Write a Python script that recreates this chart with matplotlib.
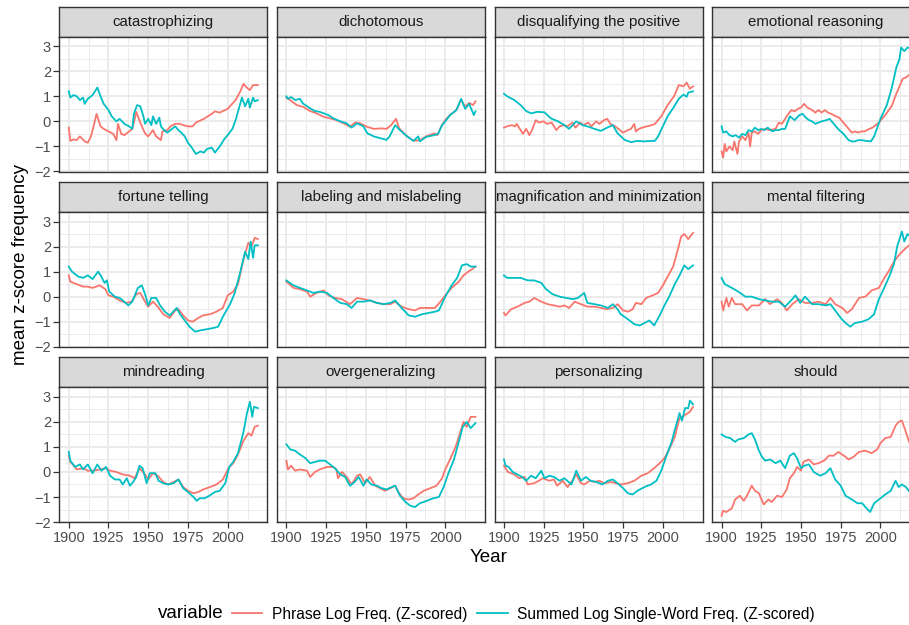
import matplotlib
matplotlib.use("Agg")
import matplotlib.pyplot as plt
from matplotlib.lines import Line2D

plt.rcParams['font.family'] = ['Liberation Sans', 'DejaVu Sans']

# ---------------- data (year, mean z-score) ----------------
catastrophizing_phrase = [(1900,-0.25),(1901,-0.78),(1903,-0.72),(1905,-0.75),(1907,-0.6),(1910,-0.8),(1912,-0.85),(1914,-0.6),(1916,-0.1),(1917.5,0.3),(1919,0.0),(1920,-0.2),(1922,-0.3),(1925,-0.4),(1928,-0.5),(1930,-0.75),(1931,-0.1),(1933,-0.5),(1935,-0.55),(1938,-0.4),(1940,-0.3),(1942.5,0.38),(1945,-0.05),(1948,-0.48),(1950,-0.6),(1953,-0.35),(1955,-0.6),(1958,-0.75),(1959,-0.4),(1962,-0.35),(1964,-0.2),(1967,-0.1),(1970,-0.1),(1972,-0.15),(1975,-0.2),(1978,-0.2),(1980,-0.05),(1985,0.1),(1990,0.3),(1992,0.4),(1995,0.35),(2000,0.5),(2005,0.85),(2008,1.2),(2010,1.5),(2012,1.35),(2014,1.25),(2016,1.45),(2019,1.45)]
catastrophizing_summed = [(1900,1.2),(1901,0.95),(1903,1.05),(1905,1.0),(1907,0.85),(1909,0.95),(1910,0.7),(1912,0.9),(1915,1.05),(1918,1.35),(1920,1.0),(1922,0.7),(1925,0.45),(1927,0.2),(1930,0.0),(1932,0.1),(1935,-0.1),(1938,-0.2),(1940,-0.3),(1941,0.3),(1943,0.65),(1945,0.6),(1947,0.2),(1948,-0.1),(1950,0.1),(1952,-0.15),(1953,0.2),(1955,-0.1),(1957,0.15),(1958,-0.2),(1960,-0.35),(1962,-0.45),(1965,-0.3),(1967,-0.2),(1969,-0.35),(1970,-0.4),(1973,-0.6),(1975,-0.85),(1978,-1.1),(1980,-1.3),(1983,-1.2),(1985,-1.25),(1987,-1.1),(1990,-1.05),(1992,-1.25),(1995,-1.0),(1998,-0.7),(2000,-0.55),(2003,-0.3),(2005,0.05),(2007,0.5),(2009,0.95),(2011,0.6),(2013,0.9),(2014,0.55),(2016,0.95),(2017,0.8),(2019,0.85)]

dichotomous_phrase = [(1900,0.95),(1902,0.87),(1906.5,0.65),(1910.5,0.58),(1915,0.41),(1919,0.32),(1923.5,0.18),(1927.5,0.12),(1931.5,0.05),(1936,-0.08),(1940,-0.21),(1943.5,-0.04),(1946.5,-0.08),(1950.5,-0.21),(1955,-0.3),(1960,-0.28),(1963,-0.3),(1966,-0.15),(1969,0.1),(1971,-0.28),(1976,-0.6),(1980,-0.78),(1984,-0.75),(1988,-0.6),(1993,-0.48),(1995,-0.55),(1997.5,-0.2),(2000,0.05),(2003,0.25),(2007,0.45),(2010,0.87),(2012.5,0.58),(2015,0.74),(2017.5,0.65),(2019,0.8)]
dichotomous_summed = [(1900,1.0),(1901,0.9),(1903,0.97),(1905.5,0.85),(1908.5,0.9),(1910.5,0.71),(1915,0.52),(1918,0.41),(1921,0.38),(1923.5,0.32),(1926.5,0.25),(1929.5,0.12),(1934,0.0),(1938,-0.08),(1941,-0.25),(1944.5,-0.08),(1948.5,-0.2),(1951,-0.48),(1955,-0.6),(1959,-0.67),(1963,-0.74),(1965,-0.6),(1968.5,-0.15),(1971.5,-0.35),(1976,-0.6),(1980,-0.78),(1983,-0.6),(1984,-0.8),(1988,-0.62),(1993,-0.55),(1995.5,-0.5),(1998,-0.15),(2000,0.0),(2003,0.25),(2007,0.45),(2010,0.9),(2012.5,0.5),(2015,0.7),(2018,0.25),(2019,0.4)]

disqualifying_phrase = [(1900,-0.25),(1902,-0.2),(1905,-0.15),(1907,-0.2),(1908,-0.1),(1910,-0.3),(1912,-0.5),(1914,-0.3),(1916,-0.55),(1918,-0.3),(1920,0.05),(1922,-0.05),(1925,0.0),(1927,-0.1),(1930,-0.05),(1933,-0.35),(1935,-0.2),(1938,-0.15),(1940,-0.2),(1943,-0.05),(1945,-0.25),(1948,-0.05),(1950,-0.15),(1953,-0.05),(1955,-0.2),(1958,0.0),(1960,-0.1),(1963,0.05),(1965,0.1),(1967,-0.1),(1970,-0.2),(1973,-0.35),(1975,-0.45),(1978,-0.35),(1980,-0.3),(1982,-0.1),(1983,-0.4),(1985,-0.3),(1987,-0.25),(1990,-0.2),(1993,-0.15),(1995,-0.1),(1999,0.2),(2003,0.65),(2007,1.0),(2010,1.45),(2013,1.4),(2015,1.55),(2017,1.3),(2019,1.4)]
disqualifying_summed = [(1900,1.1),(1902,1.0),(1906.5,0.85),(1910.5,0.65),(1914,0.41),(1917,0.32),(1921,0.38),(1925.5,0.36),(1929.5,0.12),(1934,0.0),(1938,-0.15),(1941,-0.3),(1945.5,0.0),(1949.5,-0.15),(1952.5,-0.2),(1957,-0.3),(1961,-0.38),(1964,-0.28),(1968.5,-0.15),(1971.5,-0.48),(1976,-0.74),(1980,-0.83),(1984,-0.78),(1988,-0.8),(1993,-0.78),(1995,-0.78),(1997,-0.6),(2000,-0.2),(2003,0.2),(2007,0.58),(2010,0.9),(2013,1.07),(2015,0.98),(2016,1.15),(2019,1.2)]

emotional_phrase = [(1900,-1.2),(1901,-1.45),(1902,-0.9),(1903,-1.2),(1905,-1.0),(1907,-1.15),(1908,-0.8),(1910,-1.3),(1911,-0.8),(1913,-0.6),(1915,-0.75),(1917,-0.45),(1918,-1.0),(1919,-0.45),(1921,-0.4),(1923,-0.5),(1925,-0.35),(1928,-0.3),(1930,-0.35),(1934,-0.3),(1936,-0.05),(1938,-0.1),(1940,0.1),(1942,0.3),(1944,0.45),(1946,0.4),(1948,0.5),(1950,0.55),(1952,0.7),(1954,0.55),(1957,0.45),(1959,0.35),(1961,0.45),(1963,0.35),(1965,0.45),(1967,0.35),(1969,0.3),(1972,0.2),(1974,0.15),(1976,0.0),(1978,-0.15),(1980,-0.3),(1982,-0.45),(1984,-0.4),(1986,-0.45),(1988,-0.4),(1990,-0.4),(1993,-0.3),(1995,-0.25),(1999,-0.05),(2003,0.25),(2007,0.6),(2010,1.1),(2012,1.4),(2014,1.7),(2016,1.75),(2019,1.9)]
emotional_summed = [(1900,-0.2),(1901,-0.45),(1903,-0.4),(1905,-0.55),(1907,-0.6),(1909,-0.55),(1911,-0.65),(1913,-0.5),(1915,-0.55),(1917,-0.35),(1919,-0.4),(1921,-0.25),(1923,-0.35),(1925,-0.3),(1927,-0.35),(1929,-0.25),(1932,-0.4),(1934,-0.35),(1936,-0.35),(1938,-0.3),(1940,-0.3),(1943,0.2),(1945,0.1),(1946,0.05),(1949,0.25),(1951,0.3),(1953,0.15),(1955,0.05),(1957,0.0),(1959,-0.1),(1961,-0.05),(1963,0.0),(1966,0.05),(1968,0.1),(1970,-0.05),(1972,-0.2),(1974,-0.35),(1976,-0.45),(1978,-0.6),(1980,-0.75),(1982,-0.8),(1984,-0.8),(1986,-0.75),(1988,-0.75),(1991,-0.78),(1994,-0.8),(1996,-0.6),(2000,0.1),(2004,0.65),(2007,1.3),(2010,2.15),(2012,2.5),(2013,2.95),(2015,2.8),(2017,2.95),(2019,2.9)]

fortune_phrase = [(1900,0.85),(1901,0.6),(1905,0.5),(1909,0.4),(1912,0.4),(1915,0.35),(1919.5,0.45),(1923,0.3),(1925,0.05),(1928,0.0),(1932,-0.15),(1936,-0.25),(1939.5,-0.2),(1942.5,0.1),(1945,0.15),(1948,-0.2),(1950,-0.4),(1953,-0.2),(1956,-0.4),(1959.5,-0.7),(1963.5,-0.85),(1967,-0.55),(1969,-0.5),(1972,-0.75),(1975,-0.95),(1978,-1.0),(1981.5,-0.85),(1984.5,-0.75),(1989,-0.7),(1993,-0.6),(1997,-0.45),(2000,0.05),(2003.5,0.2),(2006.5,0.5),(2010,1.5),(2013,2.15),(2015,2.0),(2017,2.35),(2019,2.3)]
fortune_summed = [(1900,1.2),(1902,1.0),(1906,0.8),(1909,0.75),(1912,0.85),(1915,0.7),(1918.5,1.0),(1920.5,0.8),(1922.5,0.55),(1924,0.65),(1925.5,0.2),(1929,0.0),(1932,-0.05),(1934,-0.15),(1937.5,-0.35),(1940,-0.2),(1943.5,0.35),(1946,0.45),(1948,0.1),(1950,-0.35),(1952,-0.05),(1955,-0.05),(1957.5,-0.35),(1960.5,-0.6),(1963.5,-0.75),(1968,-0.45),(1970,-0.7),(1973,-0.95),(1976,-1.2),(1979.5,-1.4),(1982.5,-1.35),(1987,-1.3),(1991,-1.25),(1994,-1.2),(1997,-0.8),(2001.5,-0.3),(2004.5,0.15),(2008,1.0),(2011,1.8),(2013,1.5),(2014.5,2.2),(2016,1.55),(2017,2.05),(2019,2.05)]

labeling_phrase = [(1900,0.6),(1904.5,0.35),(1908.5,0.3),(1913,0.2),(1915,0.0),(1919,0.15),(1923.5,0.25),(1926.5,0.05),(1930.5,-0.05),(1935,-0.1),(1940,-0.3),(1944.5,-0.05),(1948.5,-0.1),(1952.5,-0.15),(1957,-0.25),(1962,-0.3),(1965.5,-0.3),(1968.5,-0.2),(1972.5,-0.4),(1977,-0.5),(1981,-0.55),(1984,-0.45),(1988.5,-0.45),(1993.5,-0.45),(1997,-0.2),(2000,0.05),(2004,0.35),(2008.5,0.6),(2011.5,0.85),(2014.5,1.0),(2017,1.1),(2019,1.2)]
labeling_summed = [(1900,0.65),(1904.5,0.45),(1908.5,0.35),(1913,0.25),(1917,0.15),(1921,0.2),(1925.5,0.15),(1929.5,-0.05),(1934,-0.25),(1938,-0.3),(1941,-0.45),(1944.5,-0.2),(1948.5,-0.2),(1952.5,-0.15),(1957,-0.25),(1961,-0.3),(1965.5,-0.25),(1968.5,-0.15),(1972.5,-0.45),(1977,-0.75),(1981,-0.8),(1985.5,-0.7),(1989.5,-0.65),(1993.5,-0.6),(1996,-0.55),(2000,0.0),(2004,0.45),(2007.5,0.75),(2010.5,1.25),(2013.5,1.3),(2016,1.2),(2019,1.2)]

magnification_phrase = [(1900,-0.65),(1901,-0.75),(1904.5,-0.5),(1908.5,-0.4),(1913,-0.25),(1916,-0.2),(1919,-0.05),(1923.5,-0.2),(1927.5,-0.3),(1931.5,-0.35),(1935,-0.4),(1938,-0.35),(1941,-0.45),(1944.5,-0.2),(1948.5,-0.3),(1952.5,-0.4),(1957,-0.4),(1961,-0.45),(1964.5,-0.5),(1968.5,-0.45),(1971.5,-0.3),(1975,-0.55),(1978,-0.6),(1981,-0.5),(1983,-0.25),(1986.5,-0.3),(1989.5,-0.05),(1993.5,0.05),(1997,0.15),(2000,0.45),(2003,0.8),(2006.5,1.2),(2009.5,1.9),(2011.5,2.4),(2013.5,2.5),(2016,2.3),(2019,2.55)]
magnification_summed = [(1900,0.85),(1902,0.75),(1906.5,0.75),(1910.5,0.75),(1915,0.65),(1919,0.65),(1923.5,0.55),(1926.5,0.3),(1930.5,0.1),(1935,0.0),(1939,-0.05),(1943.5,-0.1),(1946.5,-0.05),(1950.5,0.15),(1952.5,-0.25),(1957,-0.3),(1961,-0.35),(1965.5,-0.45),(1968.5,-0.3),(1971.5,-0.5),(1973.5,-0.7),(1978,-0.9),(1982,-1.1),(1985.5,-1.15),(1988.5,-1.05),(1991.5,-0.95),(1994.5,-1.15),(1998,-0.75),(2001,-0.35),(2004,0.0),(2007.5,0.5),(2010.5,0.85),(2013.5,1.25),(2016,1.1),(2019,1.25)]

mental_phrase = [(1900,-0.2),(1901,-0.55),(1903,-0.05),(1904.5,-0.4),(1906.5,-0.05),(1908.5,-0.3),(1913,-0.3),(1916,-0.55),(1919,-0.35),(1923.5,-0.35),(1927.5,-0.1),(1930.5,-0.3),(1935,-0.1),(1938,-0.25),(1941,-0.55),(1944.5,-0.3),(1948.5,-0.1),(1952.5,-0.25),(1957,-0.25),(1961,-0.2),(1965.5,-0.3),(1968.5,-0.05),(1971.5,-0.3),(1976,-0.45),(1979,-0.65),(1982,-0.5),(1986.5,-0.05),(1990.5,0.0),(1994.5,0.25),(1999,0.35),(2002,0.7),(2005.5,1.05),(2008.5,1.4),(2011.5,1.65),(2014.5,1.85),(2018,2.05),(2019,2.1)]
mental_summed = [(1900,0.75),(1902,0.5),(1906.5,0.35),(1910.5,0.2),(1915,0.0),(1919,0.0),(1923.5,-0.1),(1927.5,-0.15),(1931.5,-0.2),(1936,-0.2),(1940,-0.4),(1944.5,-0.1),(1946.5,0.05),(1949.5,-0.25),(1952.5,0.0),(1957,-0.3),(1961,-0.3),(1965.5,-0.35),(1968.5,-0.3),(1971.5,-0.55),(1975,-0.85),(1978,-1.05),(1981,-1.2),(1984,-1.05),(1988.5,-1.0),(1992.5,-0.9),(1996,-0.7),(1999,-0.1),(2002,0.3),(2005.5,0.8),(2008.5,1.3),(2010.5,2.0),(2013.5,2.6),(2015,2.2),(2017,2.5),(2019,2.4)]

mindreading_phrase = [(1900,0.65),(1901,0.4),(1902.5,0.3),(1905,0.1),(1909,0.15),(1912,0.05),(1915,0.05),(1919.5,0.1),(1923.5,0.15),(1926,0.05),(1930,0.0),(1934,-0.1),(1938.5,-0.15),(1941.5,-0.25),(1944.5,0.15),(1948,-0.1),(1950,-0.3),(1953,-0.05),(1956,-0.15),(1959.5,-0.4),(1962.5,-0.5),(1966,-0.4),(1969,-0.3),(1972,-0.6),(1975,-0.75),(1978.5,-0.85),(1981.5,-0.8),(1984.5,-0.7),(1989,-0.6),(1993,-0.5),(1997,-0.3),(2000.5,0.15),(2003.5,0.35),(2006.5,0.7),(2010,1.25),(2013,1.55),(2015,1.45),(2017,1.8),(2019,1.85)]
mindreading_summed = [(1900,0.8),(1901,0.45),(1904,0.2),(1907,0.3),(1909,0.1),(1912,0.3),(1915,-0.05),(1918,0.3),(1920.5,0.05),(1923.5,0.2),(1926,-0.15),(1929,-0.3),(1932,-0.3),(1934,-0.5),(1936.5,-0.25),(1938.5,-0.55),(1940.5,-0.4),(1942.5,-0.2),(1944.5,0.25),(1946.5,0.15),(1949,-0.45),(1951,-0.05),(1954.5,-0.05),(1956.5,-0.35),(1959.5,-0.45),(1962.5,-0.5),(1966,-0.45),(1969,-0.3),(1972,-0.65),(1975,-0.8),(1978.5,-1.0),(1980.5,-1.15),(1982.5,-1.05),(1985.5,-1.05),(1988.5,-0.95),(1992,-0.8),(1995,-0.75),(1998.5,-0.45),(2001,0.2),(2003.5,0.4),(2006.5,0.75),(2010,1.6),(2012,2.3),(2014,2.8),(2015.5,2.2),(2016.5,2.6),(2019,2.55)]

overgeneralizing_phrase = [(1900,0.45),(1901,0.1),(1903,0.25),(1905.5,0.05),(1908.5,0.1),(1913,0.05),(1915,-0.2),(1918,0.0),(1921,0.1),(1925.5,0.2),(1929.5,0.2),(1931.5,0.1),(1932.5,-0.25),(1935,0.0),(1938,-0.2),(1941,-0.5),(1944.5,-0.15),(1946.5,-0.1),(1949.5,-0.45),(1952.5,-0.2),(1956,-0.55),(1959,-0.65),(1962,-0.75),(1965.5,-0.65),(1968.5,-0.55),(1970.5,-0.8),(1973.5,-1.05),(1977,-1.1),(1980,-1.05),(1983,-0.9),(1986.5,-0.75),(1990.5,-0.65),(1994.5,-0.55),(1998,-0.25),(2000,0.1),(2003,0.5),(2006.5,1.0),(2009.5,1.6),(2011.5,2.0),(2013.5,1.8),(2016,2.2),(2019,2.2)]
overgeneralizing_summed = [(1900,1.1),(1902.5,0.9),(1905.5,0.85),(1908.5,0.7),(1912,0.55),(1915,0.35),(1918,0.4),(1921,0.45),(1924.5,0.45),(1927.5,0.3),(1930.5,0.15),(1934,-0.1),(1937,-0.2),(1940,-0.55),(1943,-0.4),(1945.5,-0.2),(1948.5,-0.55),(1950.5,-0.3),(1953.5,-0.5),(1957,-0.55),(1960,-0.65),(1963,-0.7),(1966.5,-0.6),(1968.5,-0.55),(1971.5,-0.95),(1975,-1.2),(1978,-1.35),(1981,-1.4),(1984,-1.25),(1988.5,-1.15),(1992.5,-1.05),(1996,-1.0),(1999,-0.6),(2002,-0.05),(2005.5,0.5),(2008.5,1.2),(2011,1.8),(2013.5,2.0),(2016,1.75),(2019,1.95)]

personalizing_phrase = [(1900,0.25),(1902.5,0.0),(1906.5,-0.1),(1909.5,-0.25),(1913,-0.2),(1915,-0.5),(1919,-0.45),(1922,-0.35),(1924.5,-0.25),(1928.5,-0.35),(1931.5,-0.3),(1933.5,-0.55),(1937,-0.35),(1940,-0.6),(1943,-0.35),(1945.5,-0.1),(1948.5,-0.45),(1950.5,-0.5),(1954,-0.35),(1957,-0.4),(1960,-0.35),(1963,-0.45),(1967.5,-0.4),(1970.5,-0.45),(1973.5,-0.5),(1978,-0.45),(1982,-0.35),(1986.5,-0.15),(1990.5,-0.05),(1994.5,0.15),(1998,0.35),(2001,0.55),(2004,0.9),(2007.5,1.4),(2010.5,2.15),(2012.5,2.2),(2014.5,2.3),(2017,2.4),(2019,2.6)]
personalizing_summed = [(1900,0.5),(1901,0.25),(1903,0.2),(1905.5,0.0),(1908.5,-0.1),(1911.5,-0.2),(1914,-0.35),(1917,-0.15),(1920,-0.25),(1923.5,0.05),(1925.5,-0.25),(1928.5,-0.15),(1931.5,-0.2),(1935,-0.35),(1938,-0.25),(1942.5,-0.5),(1945.5,0.05),(1948.5,-0.35),(1951.5,-0.2),(1954.5,-0.35),(1958,-0.4),(1962,-0.5),(1965.5,-0.35),(1968.5,-0.3),(1971.5,-0.45),(1975,-0.65),(1978,-0.85),(1981,-0.9),(1984,-0.75),(1988.5,-0.6),(1992.5,-0.5),(1996,-0.35),(1999,0.05),(2002,0.6),(2005.5,1.2),(2008.5,1.9),(2010.5,2.35),(2012,2.05),(2014,2.55),(2016,2.55),(2017,2.85),(2019,2.7)]

should_phrase = [(1900,-1.75),(1901,-1.55),(1903,-1.6),(1906.5,-1.45),(1908.5,-1.1),(1911.5,-0.95),(1914,-1.15),(1916,-0.95),(1919,-0.55),(1921,-0.75),(1923.5,-0.85),(1926.5,-1.3),(1929.5,-1.1),(1931.5,-1.2),(1935,-0.95),(1938,-1.0),(1941,-0.7),(1943,-0.25),(1945.5,-0.05),(1947.5,0.2),(1950,0.05),(1951.5,0.4),(1955,0.5),(1958,0.3),(1961,0.35),(1964.5,0.45),(1967.5,0.65),(1970.5,0.65),(1973.5,0.8),(1977,0.65),(1980,0.5),(1983,0.6),(1986.5,0.8),(1990.5,0.85),(1994.5,0.75),(1998,0.9),(2000,1.15),(2003,1.35),(2006.5,1.4),(2009.5,1.85),(2011.5,2.0),(2013.5,2.05),(2016,1.6),(2018,1.2),(2019,1.15)]
should_summed = [(1900,1.5),(1902.5,1.4),(1905.5,1.35),(1908.5,1.2),(1910.5,1.3),(1914,1.35),(1917,1.5),(1919,1.55),(1921,1.3),(1923.5,0.85),(1925.5,0.6),(1927.5,0.45),(1930.5,0.5),(1934,0.35),(1937,0.45),(1940,0.15),(1943,0.65),(1945.5,0.75),(1947.5,0.55),(1950,0.15),(1952,0.25),(1955,0.3),(1958,0.0),(1962,-0.15),(1965.5,-0.05),(1968.5,0.15),(1971.5,-0.3),(1975,-0.55),(1978,-0.95),(1982,-1.1),(1985.5,-1.25),(1988.5,-1.25),(1990.5,-1.4),(1993.5,-1.6),(1996,-1.25),(1999,-1.1),(2003,-0.9),(2006.5,-0.75),(2009.5,-0.35),(2011.5,-0.6),(2013.5,-0.5),(2016,-0.6),(2019,-0.85)]

panel_titles = ["catastrophizing", "dichotomous", "disqualifying the positive", "emotional reasoning",
                "fortune telling", "labeling and mislabeling", "magnification and minimization", "mental filtering",
                "mindreading", "overgeneralizing", "personalizing", "should"]
phrase_series = [catastrophizing_phrase, dichotomous_phrase, disqualifying_phrase, emotional_phrase,
                 fortune_phrase, labeling_phrase, magnification_phrase, mental_phrase,
                 mindreading_phrase, overgeneralizing_phrase, personalizing_phrase, should_phrase]
summed_series = [catastrophizing_summed, dichotomous_summed, disqualifying_summed, emotional_summed,
                 fortune_summed, labeling_summed, magnification_summed, mental_summed,
                 mindreading_summed, overgeneralizing_summed, personalizing_summed, should_summed]
legend_labels = ["Phrase Log Freq. (Z-scored)", "Summed Log Single-Word Freq. (Z-scored)"]
x_ticks = [1900, 1925, 1950, 1975, 2000]
y_ticks = [-2, -1, 0, 1, 2, 3]

# ---------------- styling / layout ----------------
RED = "#F8766D"
CYAN = "#00BFC4"
GRID = "#EBEBEB"
DARK = "#333333"
W, H = 909, 625
fig = plt.figure(figsize=(W / 100, H / 100), dpi=100)

col_left = [59.3, 276.9, 494.5, 712.1]
panel_w = 208.0
strip_top = [6.7, 182.0, 357.3]
strip_h = 30.0
panel_h = 135.0

def add_px_axes(x0, ytop, w, h):
    return fig.add_axes([x0 / W, 1 - (ytop + h) / H, w / W, h / H])

XLIM = (1894.05, 2024.95)
YLIM = (-2.01, 3.38)
LW = 1.3

for i, title in enumerate(panel_titles):
    r, c = divmod(i, 4)
    x0 = col_left[c]
    st = strip_top[r]
    # strip
    sax = add_px_axes(x0, st, panel_w, strip_h)
    sax.set_facecolor("#D9D9D9")
    sax.set_xticks([]); sax.set_yticks([])
    for sp in sax.spines.values():
        sp.set_color(DARK); sp.set_linewidth(1.0)
    sax.text(0.5, 0.5, title, ha="center", va="center", fontsize=10.8,
             color="#1A1A1A", transform=sax.transAxes)
    # panel
    ax = add_px_axes(x0, st + strip_h, panel_w, panel_h)
    ax.set_xlim(*XLIM); ax.set_ylim(*YLIM)
    ax.set_xticks(x_ticks)
    ax.set_xticks([1912.5, 1937.5, 1962.5, 1987.5, 2012.5], minor=True)
    ax.set_yticks(y_ticks)
    ax.set_yticks([-1.5, -0.5, 0.5, 1.5, 2.5], minor=True)
    ax.grid(True, which="major", color=GRID, linewidth=1.4)
    ax.grid(True, which="minor", color=GRID, linewidth=0.7)
    ax.set_axisbelow(True)
    for sp in ax.spines.values():
        sp.set_color(DARK); sp.set_linewidth(1.0)
    ax.tick_params(which="minor", length=0)
    ax.tick_params(which="major", color=DARK, width=0.9, length=4,
                   labelsize=10.5, labelcolor="#4D4D4D", pad=2)
    if c != 0:
        ax.tick_params(axis="y", which="major", length=0, labelleft=False)
    if r != 2:
        ax.tick_params(axis="x", which="major", length=0, labelbottom=False)
    px, py = zip(*phrase_series[i])
    sx, sy = zip(*summed_series[i])
    ax.plot(px, py, color=RED, linewidth=LW, solid_joinstyle="round")
    ax.plot(sx, sy, color=CYAN, linewidth=LW, solid_joinstyle="round")

fig.text(21 / W, 1 - 265 / H, "mean z-score frequency", rotation=90,
         ha="center", va="center", fontsize=13.5, color="black")
fig.text(489 / W, 1 - 558 / H, "Year", ha="center", va="center",
         fontsize=13.5, color="black")

fig.text(158 / W, 1 - 613 / H, "variable", ha="left", va="center",
         fontsize=13.5, color="black")
handles = [Line2D([], [], color=RED, linewidth=LW), Line2D([], [], color=CYAN, linewidth=LW)]
fig.legend(handles, legend_labels, loc="center left", bbox_to_anchor=(232 / W, 1 - 614 / H),
           ncol=2, frameon=False, fontsize=11.2, handlelength=1.95, handletextpad=0.62,
           columnspacing=0.65, borderpad=0, borderaxespad=0)

fig.savefig("out.png", dpi=100)
